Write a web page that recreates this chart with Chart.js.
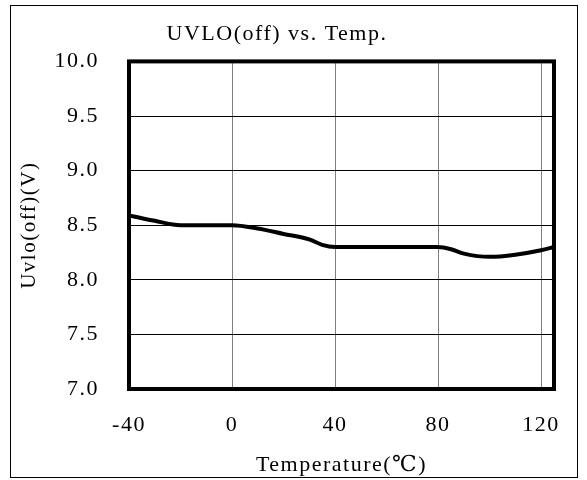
<!DOCTYPE html>
<html>
<head>
<meta charset="utf-8">
<title>UVLO(off) vs. Temp.</title>
<script src="https://cdn.jsdelivr.net/npm/chart.js@4"></script>
<style>
    html, body { margin: 0; padding: 0; background: #fff; }
    #wrap { width: 587px; height: 480px; position: relative; }
</style>
</head>
<body>
<div id="wrap"><canvas id="uvloChart"></canvas></div>
<script>
// values
const temps = [-40, -30, -20, 0, 10, 20, 30, 35, 40, 60, 80, 85, 90, 100, 110, 120, 125];
const uvloOff = [8.59, 8.54, 8.5, 8.5, 8.47, 8.42, 8.37, 8.32, 8.30, 8.30, 8.30, 8.28, 8.24, 8.21, 8.23, 8.27, 8.30];
const xTicks = [-40, 0, 40, 80, 120];
const yTicks = [7.0, 7.5, 8.0, 8.5, 9.0, 9.5, 10.0];

const fontFamily = "'Liberation Serif', 'DejaVu Serif', serif";
const spacing = "1.5px";

// white background, outer frame and the heavy plot border
// (letterSpacing mimics the wide fixed-pitch font of the original)
const framePlugin = {
    id: "frame",
    beforeLayout(chart) {
        chart.ctx.letterSpacing = spacing;
    },
    beforeDraw(chart) {
        const ctx = chart.ctx;
        ctx.letterSpacing = spacing;
        ctx.save();
        ctx.fillStyle = "#fff";
        ctx.fillRect(0, 0, chart.width, chart.height);
        ctx.strokeStyle = "#000";
        ctx.lineWidth = 1;
        ctx.strokeRect(10.5, 5.5, 567, 472);
        ctx.restore();
    },
    afterDraw(chart) {
        const a = chart.chartArea;
        const ctx = chart.ctx;
        ctx.save();
        ctx.strokeStyle = "#000";
        ctx.lineWidth = 4;
        ctx.strokeRect(a.left, a.top, a.right - a.left, a.bottom - a.top);
        ctx.restore();
    }
};

const ctx = document.getElementById("uvloChart").getContext("2d");

new Chart(ctx, {
    type: "line",
    data: {
        datasets: [{
            label: "UVLO(off)",
            data: temps.map((t, i) => ({ x: t, y: uvloOff[i] })),
            borderColor: "#000",
            borderWidth: 4,
            pointRadius: 0,
            fill: false,
            cubicInterpolationMode: "monotone"
        }]
    },
    options: {
        responsive: true,
        maintainAspectRatio: false,
        animation: false,
        layout: { padding: { left: 0, right: 33, top: 0, bottom: 0 } },
        plugins: {
            legend: { display: false },
            tooltip: { enabled: false },
            title: {
                display: true,
                text: "UVLO(off) vs. Temp.",
                color: "#000",
                font: { family: fontFamily, size: 22, weight: "normal" },
                padding: { top: 21, bottom: 14 }
            }
        },
        scales: {
            x: {
                type: "linear",
                min: -40,
                max: 125,
                afterBuildTicks: s => { s.ticks = xTicks.map(v => ({ value: v })); },
                afterFit: s => { s.height = 91; },
                border: { display: false },
                grid: { color: "#808080", lineWidth: 1, drawTicks: false },
                ticks: {
                    color: "#000",
                    padding: 23,
                    maxRotation: 0,
                    font: { family: fontFamily, size: 22 }
                },
                title: {
                    display: true,
                    text: "Temperature(℃)",
                    color: "#000",
                    font: { family: fontFamily, size: 22 },
                    padding: { top: 4, bottom: 2 }
                }
            },
            y: {
                min: 7,
                max: 10,
                afterBuildTicks: s => { s.ticks = yTicks.map(v => ({ value: v })); },
                afterFit: s => { s.width = 129; },
                border: { display: false },
                grid: { color: "#000", lineWidth: 1, drawTicks: false },
                ticks: {
                    color: "#000",
                    padding: 30,
                    font: { family: fontFamily, size: 22 },
                    callback: v => Number(v).toFixed(1)
                },
                title: {
                    display: true,
                    text: "Uvlo(off)(V)",
                    color: "#000",
                    font: { family: fontFamily, size: 21 },
                    padding: { top: 17, bottom: 0 }
                }
            }
        }
    },
    plugins: [framePlugin]
});
</script>
</body>
</html>
